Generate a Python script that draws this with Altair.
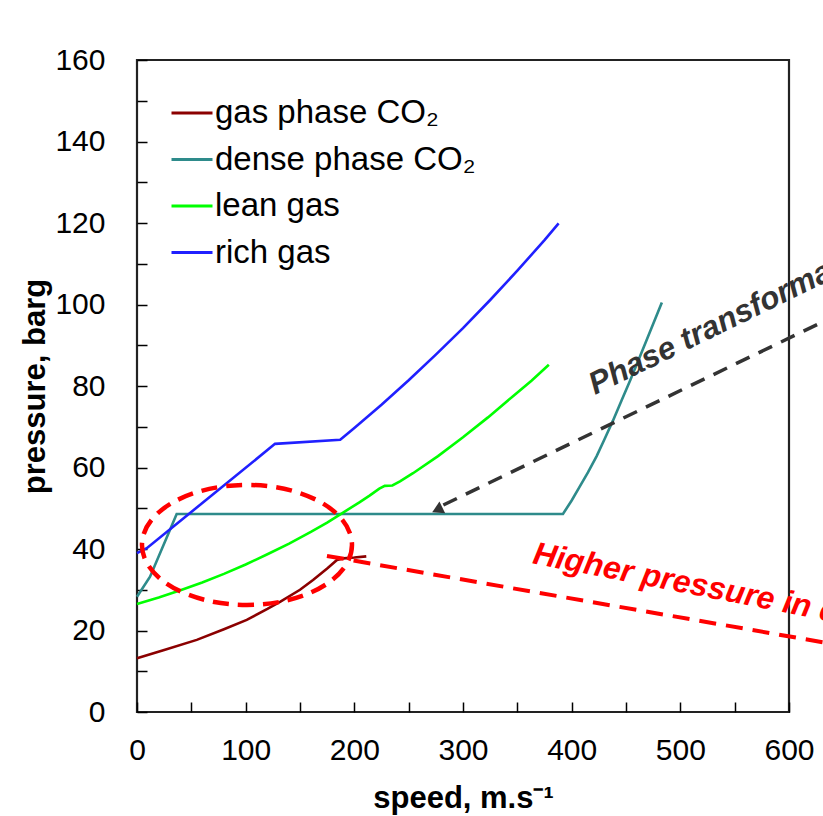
import altair as alt
import pandas as pd

# ---------------- data ----------------
gas_speed = [0, 25, 55, 80, 101, 120, 132, 150, 162, 175, 184, 190, 200, 211]
gas_pressure = [13.2, 15.2, 17.7, 20.3, 22.6, 25.3, 27.1, 30.0, 32.4, 35.2, 37.3, 37.7, 37.9, 38.2]

dense_speed = [0, 12, 30, 36.5, 392, 400, 407, 415, 423, 430, 438, 446, 454, 469, 483]
dense_pressure = [28.3, 33.2, 44.5, 48.6, 48.6, 51.9, 55.1, 58.8, 62.8, 66.8, 71.5, 76.5, 81.5, 91.3, 100.5]

lean_speed = [0, 20, 40, 60, 80, 100, 120, 140, 160, 175, 190, 205, 214, 223, 228, 235, 242, 254,
              277, 300, 323, 346, 363, 379]
lean_pressure = [26.5, 28.1, 29.9, 31.8, 33.9, 36.2, 38.7, 41.3, 44.2, 46.5, 49.0, 51.5, 53.1, 54.8,
                 55.5, 55.6, 56.6, 58.6, 62.8, 67.4, 72.3, 77.5, 81.3, 85.2]

rich_speed = [0, 9, 127, 187, 200, 225, 250, 275, 300, 325, 350, 375, 388]
rich_pressure = [39.0, 40.2, 65.8, 66.8, 69.7, 75.4, 81.4, 87.7, 94.2, 101.1, 108.3, 115.8, 119.9]

series_names = ["gas phase CO\u2082", "dense phase CO\u2082", "lean gas", "rich gas"]
series_colors = ["#8B0000", "#2E8B8B", "#00FF00", "#2020FF"]

x_tick_values = [0, 50, 100, 150, 200, 250, 300, 350, 400, 450, 500, 550, 600]
y_tick_values = [0, 10, 20, 30, 40, 50, 60, 70, 80, 90, 100, 110, 120, 130, 140, 150, 160]

# annotations
ellipse_speed = [101.2]
ellipse_pressure = [41.0]
red_line_speed = [174.8, 640]
red_line_pressure = [38.3, 16.7]
black_line_speed = [281.9, 640]
black_line_pressure = [50.8, 96.9]
arrow_speed = [276.3]
arrow_pressure = [49.6]
phase_text = ["Phase transformation"]
phase_speed = [421.5]
phase_pressure = [77.8]
higher_text = ["Higher pressure in dense phase"]
higher_speed = [363.2]
higher_pressure = [36.5]

# ---------------- tables ----------------
rows = []
for name, xs, ys in zip(series_names,
                        [gas_speed, dense_speed, lean_speed, rich_speed],
                        [gas_pressure, dense_pressure, lean_pressure, rich_pressure]):
    for i, (xv, yv) in enumerate(zip(xs, ys)):
        rows.append({"series": name, "speed": xv, "pressure": yv, "order": i})
df = pd.DataFrame(rows)

FONT = "Liberation Sans"

x_scale = alt.Scale(domain=[0, 600], nice=False, zero=False)
y_scale = alt.Scale(domain=[0, 160], nice=False)

x_axis = alt.Axis(
    values=x_tick_values,
    labelExpr="datum.value % 100 == 0 ? datum.label : ''",
    tickSize={"expr": "-10"}, tickColor="#000", tickWidth=1.5,
    labelPadding=33, labelFontSize=30, labelColor="#000", labelFont=FONT,
    labelFlush=False, labelOverlap=False, grid=False, domain=False,
    title="speed, m.s\u207b\u00b9", titleFontSize=31, titleFont=FONT,
    titleFontWeight="bold", titleColor="#000", titleX=326, titleY=86,
    titleBaseline="middle", titleAlign="center",
)
y_axis = alt.Axis(
    values=y_tick_values,
    labelExpr="datum.value % 20 == 0 ? datum.label : ''",
    tickSize={"expr": "-10"}, tickColor="#000", tickWidth=1.5,
    labelPadding=42, labelFontSize=30, labelColor="#000", labelFont=FONT,
    labelFlush=False, labelOverlap=False, grid=False, domain=False,
    title="pressure, barg", titleFontSize=31, titleFont=FONT,
    titleFontWeight="bold", titleColor="#000", titleX=-102, titleY=326,
    titleAngle=270, titleBaseline="middle", titleAlign="center",
)

X = alt.X("speed:Q", scale=x_scale, axis=x_axis)
Y = alt.Y("pressure:Q", scale=y_scale, axis=y_axis)

lines = alt.Chart(df).mark_line(strokeWidth=2.6).encode(
    x=X, y=Y,
    order="order:Q",
    color=alt.Color(
        "series:N",
        scale=alt.Scale(domain=series_names, range=series_colors),
        legend=alt.Legend(
            orient="none", legendX=33, legendY=31, title=None,
            symbolType="stroke", symbolSize=1681, symbolStrokeWidth=3,
            labelFontSize=33, labelFont=FONT, labelColor="#000",
            labelOffset=1, labelLimit=500, rowPadding=7.5, padding=0,
        ),
    ),
)

ellipse_path = ("M 1 0 C 1 0.3156 0.5523 0.5714 0 0.5714 "
                "C -0.5523 0.5714 -1 0.3156 -1 0 "
                "C -1 -0.3156 -0.5523 -0.5714 0 -0.5714 "
                "C 0.5523 -0.5714 1 -0.3156 1 0 Z")

ellipse = alt.Chart(pd.DataFrame({"speed": ellipse_speed, "pressure": ellipse_pressure})).mark_point(
    shape=ellipse_path, size=44100, filled=False, color="#FF0000",
    strokeWidth=4.5, strokeDash=[16, 9], opacity=1,
).encode(x=X, y=Y)

red_line = alt.Chart(pd.DataFrame({"speed": red_line_speed, "pressure": red_line_pressure})).mark_line(
    color="#FF0000", strokeWidth=4, strokeDash=[17, 10],
).encode(x=X, y=Y)

black_line = alt.Chart(pd.DataFrame({"speed": black_line_speed, "pressure": black_line_pressure})).mark_line(
    color="#333333", strokeWidth=3.5, strokeDash=[15, 10],
).encode(x=X, y=Y)

arrow = alt.Chart(pd.DataFrame({"speed": arrow_speed, "pressure": arrow_pressure})).mark_point(
    shape="triangle-up", size=170, filled=True, color="#333333", opacity=1, angle=244,
).encode(x=X, y=Y)

phase = alt.Chart(pd.DataFrame({"speed": phase_speed, "pressure": phase_pressure, "t": phase_text})).mark_text(
    angle=334, align="left", baseline="alphabetic", font=FONT, fontSize=31.5,
    fontWeight="bold", fontStyle="italic", color="#333333",
).encode(x=X, y=Y, text="t:N")

higher = alt.Chart(pd.DataFrame({"speed": higher_speed, "pressure": higher_pressure, "t": higher_text})).mark_text(
    angle=11, align="left", baseline="alphabetic", font=FONT, fontSize=32,
    fontWeight="bold", fontStyle="italic", color="#FF0000",
).encode(x=X, y=Y, text="t:N")

chart = alt.layer(lines, ellipse, red_line, black_line, arrow, phase, higher).properties(
    width=652, height=652,
    background="white",
    autosize=alt.AutoSizeParams(type="none"),
    padding={"left": 137, "top": 60, "right": 34, "bottom": 104},
).configure_view(
    stroke="#222222", strokeWidth=2.2,
)

chart.save("out.html", embed_options={"renderer": "svg", "actions": False})
